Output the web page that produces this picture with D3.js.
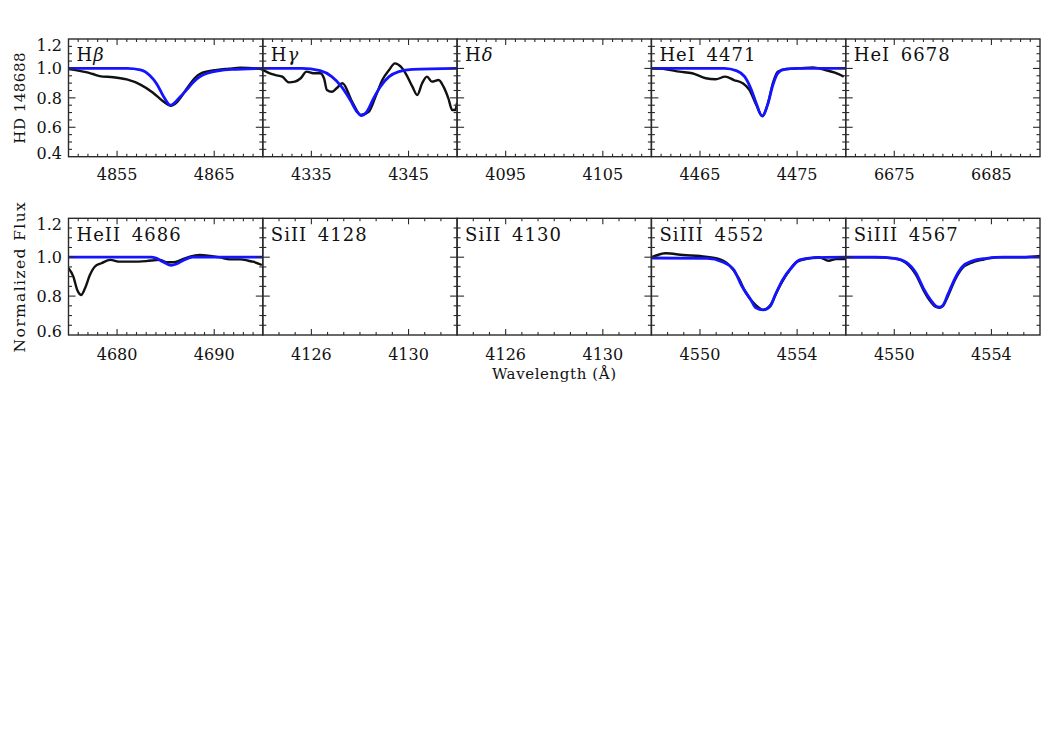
<!DOCTYPE html>
<html>
<head>
<meta charset="utf-8">
<script src="https://cdn.jsdelivr.net/npm/d3@7"></script>
<style>
  html, body { margin: 0; padding: 0; background: #fff; }
  svg { display: block; }
  text { font-family: "DejaVu Serif", "Liberation Serif", serif; fill: #111; }
</style>
</head>
<body>
<svg id="chart" width="1050" height="750"></svg>
<script>
// ---------------- DATA ----------------
// Top row: hydrogen & HeI panels; bottom row: HeII, SiII, SiIII panels
const topLabels = ["H|β", "H|γ", "H|δ", "HeI 4471", "HeI 6678"];
const topDomains = [[4850, 4870], [4330, 4350], [4090, 4110], [4460, 4480], [6670, 6690]];
const topTicks = [[4855, 4865], [4335, 4345], [4095, 4105], [4465, 4475], [6675, 6685]];
const bottomLabels = ["HeII 4686", "SiII 4128", "SiII 4130", "SiIII 4552", "SiIII 4567"];
const bottomDomains = [[4675, 4695], [4124, 4132], [4124, 4132], [4548, 4556], [4548, 4556]];
const bottomTicks = [[4680, 4690], [4126, 4130], [4126, 4130], [4550, 4554], [4550, 4554]];
const topYTicks = [0.4, 0.6, 0.8, 1.0, 1.2];
const bottomYTicks = [0.6, 0.8, 1.0, 1.2];
const topYDomain = [0.4, 1.2];
const bottomYDomain = [0.6, 1.2];

// observed spectra (black) and model fits (blue): [wavelength, normalized flux]
const hbetaObs = [[4850,0.995],[4851.0,0.985],[4851.8,0.975],[4852.5,0.962],[4853.2,0.948],[4854.6,0.94],[4856.0,0.925],[4857.4,0.89],[4858.7,0.835],[4859.8,0.773],[4860.5,0.746],[4861.2,0.773],[4862.2,0.865],[4863.0,0.935],[4863.6,0.965],[4865.3,0.99],[4866.5,0.998],[4867.7,1.005],[4869.8,0.996],[4870,0.99]];
const hbetaModel = [[4850,1.0],[4856,1.0],[4857.4,0.99],[4858.4,0.95],[4859.1,0.893],[4859.8,0.807],[4860.5,0.75],[4861.5,0.807],[4862.2,0.858],[4862.9,0.91],[4864.3,0.967],[4866.8,0.993],[4870,1.0]];
const hgammaObs = [[4330,0.99],[4330.6,0.97],[4331.3,0.955],[4332.0,0.944],[4332.7,0.905],[4333.3,0.91],[4333.9,0.933],[4334.5,0.978],[4335.2,0.967],[4335.9,0.967],[4336.3,0.933],[4336.6,0.853],[4337.1,0.841],[4337.6,0.865],[4338.2,0.899],[4339.2,0.773],[4340.1,0.683],[4340.9,0.705],[4341.6,0.807],[4342.3,0.921],[4343.0,0.989],[4343.6,1.034],[4344.2,1.012],[4344.8,0.955],[4345.4,0.876],[4345.9,0.819],[4346.4,0.899],[4346.9,0.944],[4347.4,0.91],[4348.1,0.921],[4348.6,0.876],[4349.1,0.797],[4349.5,0.717],[4349.8,0.717],[4350,0.767]];
const hgammaModel = [[4330,1.0],[4334,1.0],[4335.9,0.985],[4337.1,0.944],[4338.1,0.876],[4339.0,0.785],[4339.7,0.705],[4340.1,0.68],[4340.7,0.705],[4341.4,0.797],[4342.1,0.876],[4343.0,0.944],[4344.0,0.978],[4345.4,0.993],[4350,1.0]];
const hei4471Obs = [[4460,1.0],[4461.5,0.994],[4462.9,0.978],[4464.2,0.967],[4465.6,0.933],[4466.6,0.926],[4467.6,0.944],[4468.5,0.921],[4469.4,0.899],[4470.1,0.853],[4470.8,0.751],[4471.4,0.676],[4472.0,0.762],[4472.5,0.899],[4473.0,0.978],[4473.9,0.996],[4475.2,1.0],[4476.6,1.007],[4477.9,0.989],[4478.9,0.971],[4479.8,0.944]];
const hei4471Model = [[4460,1.0],[4467.5,1.0],[4468.8,0.983],[4469.6,0.944],[4470.3,0.853],[4470.8,0.762],[4471.4,0.676],[4472.0,0.762],[4472.5,0.887],[4473.0,0.967],[4473.7,0.994],[4475,1.0],[4480,1.0]];
const heii4686Obs = [[4675,0.943],[4675.5,0.90],[4675.9,0.831],[4676.3,0.806],[4676.7,0.84],[4677.2,0.908],[4677.7,0.951],[4678.4,0.969],[4679.3,0.986],[4680.3,0.977],[4681.6,0.977],[4683.0,0.98],[4684.4,0.986],[4685.1,0.974],[4685.8,0.974],[4686.6,0.986],[4687.5,1.003],[4688.5,1.011],[4689.6,1.006],[4690.6,0.999],[4691.6,0.989],[4692.7,0.989],[4693.5,0.982],[4694.0,0.977],[4694.9,0.96]];
const heii4686Model = [[4675,1.0],[4683.5,1.0],[4684.0,0.995],[4684.7,0.977],[4685.6,0.958],[4686.1,0.965],[4686.9,0.986],[4687.8,1.0],[4695,1.0]];
const siiii4552Obs = [[4548,1.0],[4548.6,1.02],[4549.3,1.011],[4550.0,1.006],[4550.7,0.994],[4551.2,0.96],[4551.6,0.891],[4551.9,0.814],[4552.3,0.754],[4552.6,0.729],[4552.9,0.754],[4553.2,0.831],[4553.6,0.917],[4554.0,0.977],[4554.5,0.994],[4554.9,1.0],[4555.3,0.982],[4555.6,0.99],[4556.0,0.99]];
const siiii4552Model = [[4548,0.996],[4550.3,0.994],[4550.9,0.977],[4551.4,0.934],[4551.7,0.857],[4552.1,0.78],[4552.3,0.74],[4552.6,0.729],[4552.9,0.749],[4553.1,0.806],[4553.4,0.883],[4553.8,0.951],[4554.1,0.986],[4554.6,0.997],[4556,1.0]];
const siiii4567Obs = [[4548,1.0],[4549.2,1.0],[4550.0,0.994],[4550.5,0.969],[4550.9,0.908],[4551.2,0.831],[4551.5,0.771],[4551.7,0.745],[4551.85,0.74],[4552.0,0.749],[4552.2,0.797],[4552.5,0.883],[4552.8,0.943],[4553.2,0.972],[4553.6,0.986],[4554.2,1.0],[4554.8,1.0],[4555.4,1.0],[4556,1.006]];
const siiii4567Model = [[4548,1.0],[4549.2,1.0],[4550.0,0.994],[4550.5,0.973],[4550.9,0.917],[4551.2,0.84],[4551.5,0.78],[4551.7,0.75],[4551.85,0.743],[4552.0,0.752],[4552.2,0.806],[4552.5,0.891],[4552.8,0.951],[4553.2,0.98],[4553.8,0.994],[4554.5,1.0],[4556,1.0]];

const topObs = [hbetaObs, hgammaObs, null, hei4471Obs, null];
const topModel = [hbetaModel, hgammaModel, null, hei4471Model, null];
const bottomObs = [heii4686Obs, null, null, siiii4552Obs, siiii4567Obs];
const bottomModel = [heii4686Model, null, null, siiii4552Model, siiii4567Model];

// ---------------- LAYOUT ----------------
const svg = d3.select("#chart");
const left = 68.5, right = 1040;
const pw = (right - left) / 5;
const rows = [
  { top: 39, bottom: 156.7, labels: topLabels, domains: topDomains, ticks: topTicks, yTicks: topYTicks, yDomain: topYDomain, obs: topObs, model: topModel, minorY: 0.05 },
  { top: 218.3, bottom: 335, labels: bottomLabels, domains: bottomDomains, ticks: bottomTicks, yTicks: bottomYTicks, yDomain: bottomYDomain, obs: bottomObs, model: bottomModel, minorY: 0.05 }
];
const axisColor = "#2a2a2a";

rows.forEach((row, ri) => {
  const y = d3.scaleLinear().domain(row.yDomain).range([row.bottom, row.top]);
  for (let i = 0; i < 5; i++) {
    const x0 = left + i * pw;
    const dom = row.domains[i];
    const x = d3.scaleLinear().domain(dom).range([x0, x0 + pw]);
    const g = svg.append("g");
    const clipId = `clip-${ri}-${i}`;
    svg.append("clipPath").attr("id", clipId).append("rect")
      .attr("x", x0).attr("y", row.top).attr("width", pw).attr("height", row.bottom - row.top);

    const line = d3.line().x(d => x(d[0])).y(d => y(d[1])).curve(d3.curveMonotoneX);
    if (row.obs[i]) {
      g.append("path").datum(row.obs[i]).attr("d", line).attr("clip-path", `url(#${clipId})`)
        .attr("fill", "none").attr("stroke", "#111").attr("stroke-width", 2.4).attr("stroke-linejoin", "round");
    }
    if (row.model[i]) {
      g.append("path").datum(row.model[i]).attr("d", line).attr("clip-path", `url(#${clipId})`)
        .attr("fill", "none").attr("stroke", "#1414ff").attr("stroke-width", 2.8).attr("stroke-linejoin", "round");
    }

    // frame
    g.append("rect").attr("x", x0).attr("y", row.top).attr("width", pw).attr("height", row.bottom - row.top)
      .attr("fill", "none").attr("stroke", axisColor).attr("stroke-width", 1.4);

    // x ticks
    const major = row.ticks[i];
    const step = (major[1] - major[0]) <= 4 ? (2 / 3) : 1;
    const minors = [];
    for (let k = -30; k <= 30; k++) {
      const v = major[0] + k * step;
      if (v > dom[0] + 1e-6 && v < dom[1] - 1e-6) minors.push(v);
    }
    minors.forEach(v => {
      const isMajor = major.some(m => Math.abs(m - v) < 1e-6);
      const len = isMajor ? 6 : 3;
      g.append("line").attr("x1", x(v)).attr("x2", x(v)).attr("y1", row.bottom).attr("y2", row.bottom - len)
        .attr("stroke", axisColor).attr("stroke-width", 1.1);
      g.append("line").attr("x1", x(v)).attr("x2", x(v)).attr("y1", row.top).attr("y2", row.top + len)
        .attr("stroke", axisColor).attr("stroke-width", 1.1);
    });
    major.forEach(v => {
      g.append("text").attr("x", x(v)).attr("y", row.bottom + (ri === 0 ? 23.5 : 24.5))
        .attr("text-anchor", "middle").attr("font-size", 16).text(v);
    });

    // y ticks
    const ymin = row.yDomain[0], ymax = row.yDomain[1];
    for (let v = ymin; v <= ymax + 1e-6; v += row.minorY) {
      const vv = Math.round(v * 100) / 100;
      if (vv <= ymin + 1e-6 || vv >= ymax - 1e-6) continue;
      const isMajor = row.yTicks.some(t => Math.abs(t - vv) < 1e-6);
      const len = isMajor ? 7 : 3.5;
      g.append("line").attr("x1", x0).attr("x2", x0 + len).attr("y1", y(vv)).attr("y2", y(vv))
        .attr("stroke", axisColor).attr("stroke-width", 1.1);
      g.append("line").attr("x1", x0 + pw).attr("x2", x0 + pw - len).attr("y1", y(vv)).attr("y2", y(vv))
        .attr("stroke", axisColor).attr("stroke-width", 1.1);
    }
    if (i === 0) {
      row.yTicks.forEach(t => {
        let yy = y(t);
        if (Math.abs(t - ymax) < 1e-6) yy += 6;
        if (Math.abs(t - ymin) < 1e-6) yy -= 3.5;
        g.append("text").attr("x", 62).attr("y", yy).attr("dy", "0.36em")
          .attr("text-anchor", "end").attr("font-size", 16).text(t.toFixed(1));
      });
    }

    // panel label
    const parts = row.labels[i].split("|");
    const lab = g.append("text").attr("x", x0 + 8).attr("y", row.top + (ri === 0 ? 21.5 : 23))
      .attr("font-size", 18).attr("letter-spacing", 1).attr("word-spacing", 4);
    lab.append("tspan").text(parts[0]);
    if (parts[1]) lab.append("tspan").attr("font-style", "italic").text(parts[1]);
  }
});

// axis titles
svg.append("text").attr("transform", `translate(25,${(39 + 156.7) / 2}) rotate(-90)`)
  .attr("text-anchor", "middle").attr("font-size", 15).attr("letter-spacing", 0.5).text("HD 148688");
svg.append("text").attr("transform", `translate(25,${(218.3 + 335) / 2}) rotate(-90)`)
  .attr("text-anchor", "middle").attr("font-size", 15.5).attr("letter-spacing", 1.4).text("Normalized Flux");
svg.append("text").attr("x", (left + right) / 2).attr("y", 379)
  .attr("text-anchor", "middle").attr("font-size", 15).attr("letter-spacing", 0.6).text("Wavelength (Å)");
</script>
</body>
</html>
